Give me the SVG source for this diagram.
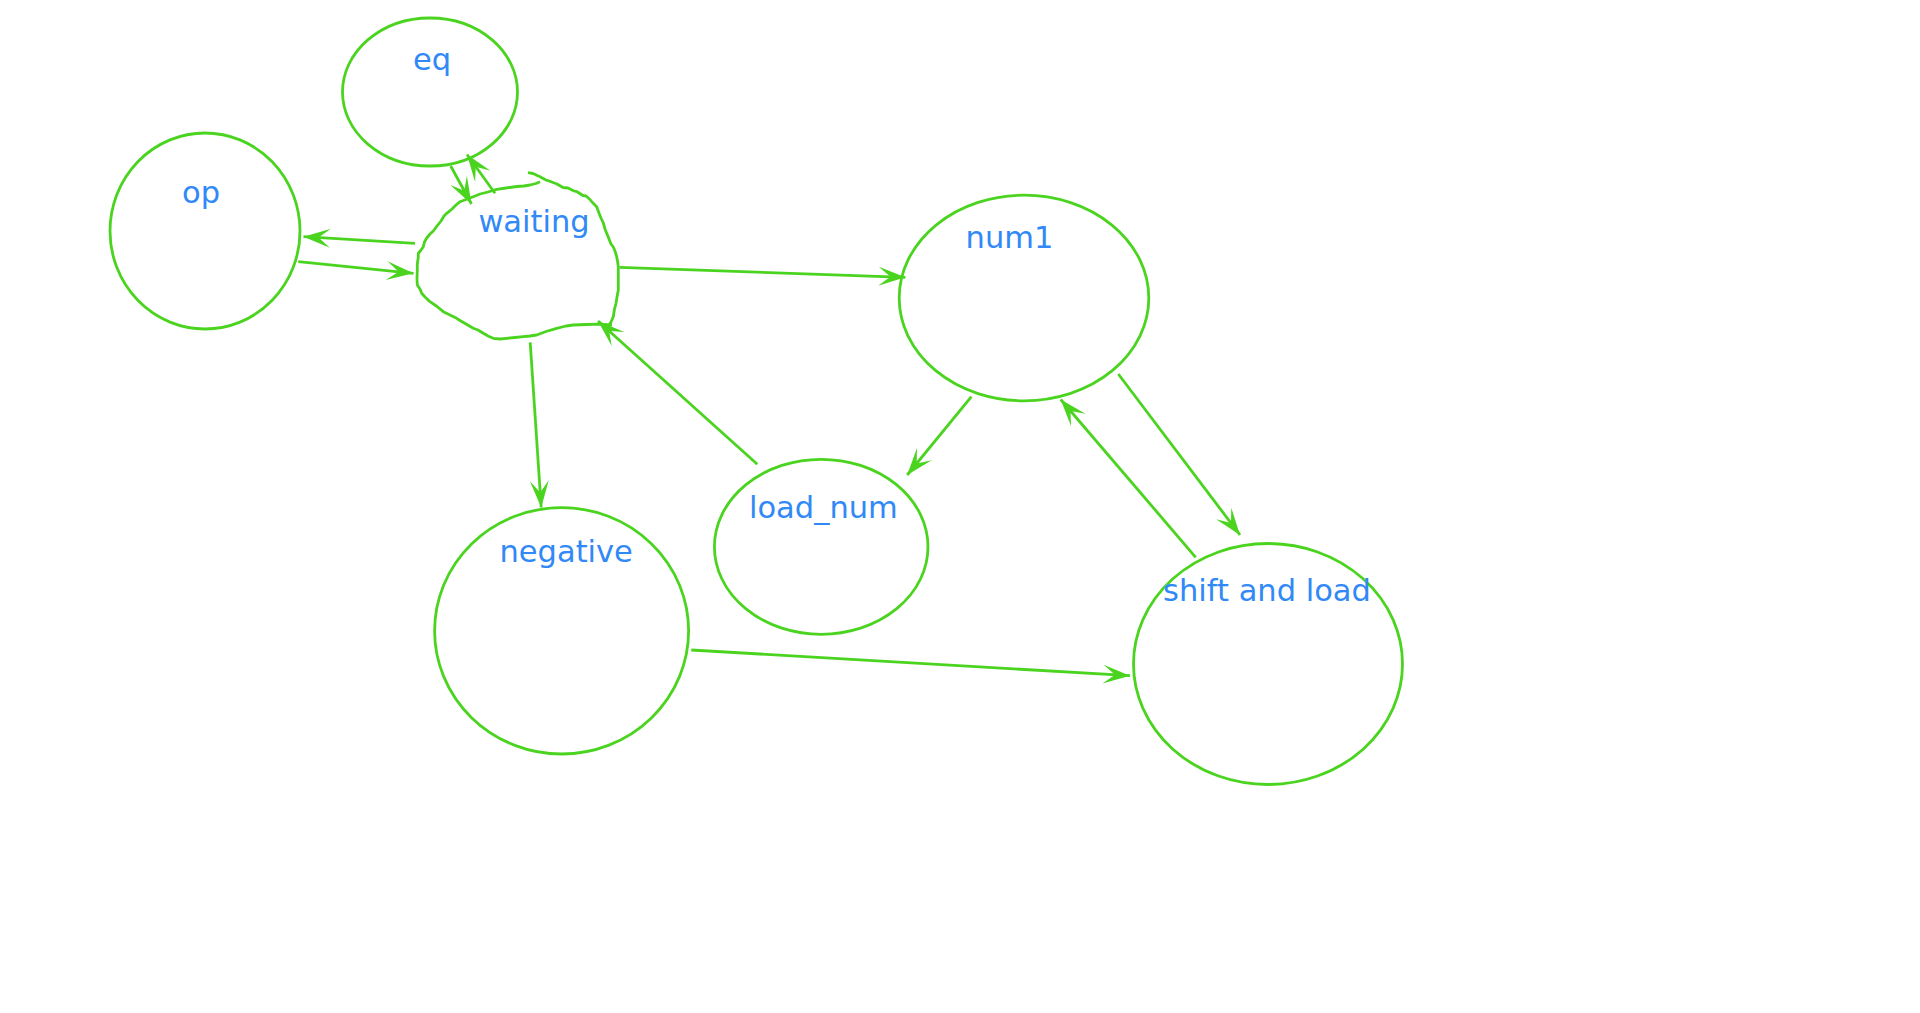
<svg xmlns="http://www.w3.org/2000/svg" width="1920" height="1013" viewBox="0 0 1920 1013">
  <style>
    .state { fill: none; stroke: #4ad41f; stroke-width: 2.8; }
    .label { font-family: "DejaVu Sans", "Liberation Sans", sans-serif; font-size: 30.5px; fill: #3189f7; text-anchor: middle; }
    .edge { fill: none; stroke: #4ad41f; stroke-width: 2.8; marker-end: url(#ah); }
  </style>
  <defs>
    <marker id="ah" markerUnits="userSpaceOnUse" markerWidth="30" markerHeight="22" viewBox="-28 -11 30 22" refX="0" refY="0" orient="auto">
      <path d="M0,0 L-27,-9.5 L-15,0 L-27,9.5 Z" fill="#4ad41f"/>
    </marker>
  </defs>
  <rect width="1920" height="1013" fill="#ffffff"/>

  <g id="eq">
    <ellipse class="state" cx="430" cy="92" rx="87.5" ry="74"/>
    <text class="label" x="432" y="69.5">eq</text>
  </g>

  <g id="op">
    <ellipse class="state" cx="205" cy="231" rx="95" ry="98"/>
    <text class="label" x="201" y="202.5">op</text>
  </g>

  <g id="waiting">
    <path class="state" stroke-linejoin="round" d="M528,172.7 L533,173.5 L540,176.7 L546,180 L551,181.7 L557,184 L563,187.5 L568,188 L574,191 L577,191.7 L583,195.5 L586,196 L590,199.5 L592,202 L596.7,206.7 L599,213 L601,218 L603.3,223 L605,229 L606.7,233.3 L609,239 L611,244 L613.3,247 L615,251 L616.7,256.7 L617.5,261 L618.3,266.7 L618.3,276 L618.3,290 L617,297 L616,303.3 L614.5,309 L613.3,316.7 L611,322 L609,325.5 M612,325 L600,324.2 L586,324.5 L573.3,325 L566,326 L556.7,328.3 L546,331.5 L536.7,335 L530,336 L523.3,336.7 L515,337.5 L506.7,338.3 L500,339 L493.3,338.3 L488,336 L483.3,333.3 L478,330 L473.3,328.3 L466,324 L460,320.5 L456.7,318.3 L450,315 L443.3,311.7 L437,306.5 L430,301.7 L425,297 L421.7,293.3 L420,289 L417.3,285 L417,279 L417.3,270 L417.3,264 L418.3,257 L418.3,253.3 L421,250 L423.3,246.7 L424.5,242 L426.7,238 L430,234 L433.3,231 L437,226 L441,221 L444,216 L446.7,213.3 L452,209 L456,205 L460,201.7 L466,199.5 L473.3,196.7 L480,194 L488,192 L496.7,189.3 L506,188 L516.7,186.5 L524,186 L530,185 L536,183.5 L540,181.7"/>
    <text class="label" x="534" y="232">waiting</text>
  </g>

  <g id="num1">
    <ellipse class="state" cx="1024" cy="298" rx="124.8" ry="102.8"/>
    <text class="label" x="1009.5" y="247.5">num1</text>
  </g>

  <g id="load_num">
    <ellipse class="state" cx="821.2" cy="546.8" rx="106.8" ry="87.5"/>
    <text class="label" x="823.4" y="517.5">load_num</text>
  </g>

  <g id="negative">
    <ellipse class="state" cx="561.6" cy="630.8" rx="127" ry="123.2"/>
    <text class="label" x="566.2" y="561.5">negative</text>
  </g>

  <g id="shift_and_load">
    <ellipse class="state" cx="1268" cy="664" rx="134.5" ry="120.5"/>
    <text class="label" x="1267" y="600.5">shift and load</text>
  </g>

  <g id="connectors">
    <!-- waiting <-> op -->
    <line class="edge" x1="415" y1="243.3" x2="303.5" y2="236.7"/>
    <line class="edge" x1="298.3" y1="261.7" x2="413.5" y2="273.3"/>
    <!-- eq <-> waiting -->
    <line class="edge" x1="450.7" y1="166" x2="471.5" y2="204"/>
    <line class="edge" x1="495" y1="193.3" x2="467" y2="154.5"/>
    <!-- waiting -> num1 -->
    <line class="edge" x1="619.6" y1="267.3" x2="905.4" y2="277.3"/>
    <!-- load_num -> waiting -->
    <line class="edge" x1="757.3" y1="464.3" x2="598" y2="321"/>
    <!-- num1 -> load_num -->
    <line class="edge" x1="971.4" y1="396.7" x2="907.2" y2="475"/>
    <!-- num1 <-> shift and load -->
    <line class="edge" x1="1118.3" y1="374" x2="1240" y2="535"/>
    <line class="edge" x1="1195.7" y1="557.3" x2="1060.7" y2="399.5"/>
    <!-- waiting -> negative -->
    <line class="edge" x1="530.2" y1="342.3" x2="541.2" y2="507.5"/>
    <!-- negative -> shift and load -->
    <line class="edge" x1="691.3" y1="650" x2="1130" y2="675.7"/>
  </g>
</svg>
